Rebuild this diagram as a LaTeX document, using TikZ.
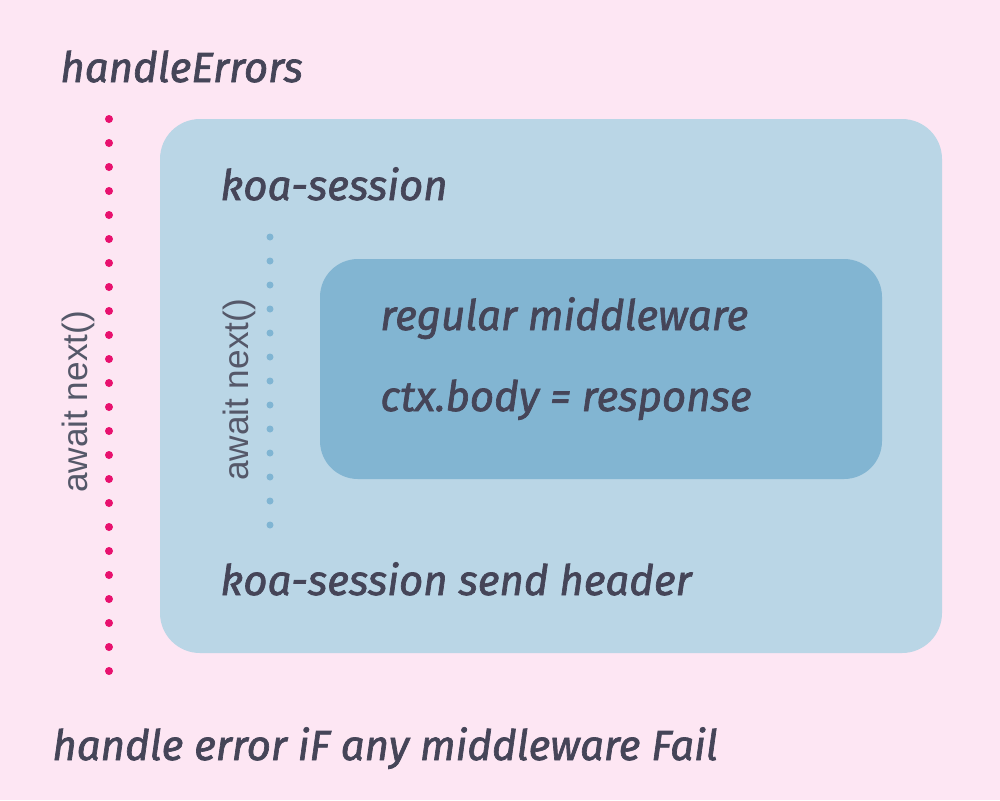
\documentclass[tikz,border=0pt]{standalone}
\usepackage{fontspec}
\setmainfont{Fira Sans}
\newfontfamily\handfont[ItalicFeatures={FakeBold=1.6}]{Fira Sans}
\newfontfamily\arialfont{Liberation Sans}
\usepackage{tikz}

\definecolor{bgpink}{HTML}{FDE6F3}
\definecolor{sessionblue}{HTML}{BAD6E6}
\definecolor{middleblue}{HTML}{82B5D2}
\definecolor{inkgray}{HTML}{454558}
\definecolor{errordots}{HTML}{E8116E}
\definecolor{nextdots}{HTML}{80B5D3}
\definecolor{nextgray}{HTML}{555869}

\tikzset{
  handtext/.style={anchor=base west,inner sep=0pt,text=inkgray,
    font=\handfont\itshape\fontsize{21}{25}\selectfont},
  nexttext/.style={rotate=90,inner sep=0pt,text=nextgray,
    font=\arialfont\fontsize{17.6}{20}\selectfont},
  dotline/.style={line cap=round,dash pattern=on 0pt off 12pt}
}

\begin{document}
\begin{tikzpicture}[x=0.5pt,y=-0.5pt]
  \fill[bgpink] (0,0) rectangle (1000,800);
  \useasboundingbox (0,0) rectangle (1000,800);

  \fill[sessionblue,rounded corners=20pt] (160,119) rectangle (942,653);
  \fill[middleblue,rounded corners=19pt]  (320,259) rectangle (882,479);

  \coordinate (errtop) at (109,119);
  \coordinate (errbot) at (109,671);
  \coordinate (nexttop) at (270,237);
  \coordinate (nextbot) at (270,525);
  \draw[dotline,errordots,line width=4pt] (errtop) -- (errbot);
  \draw[dotline,nextdots,line width=3.5pt] (nexttop) -- (nextbot);

  \node[handtext] (handle)  at (60,82)  {handleErrors};
  \node[handtext] (session) at (220,200) {koa-session};
  \node[handtext] (regular) at (380,330) {regular middleware};
  \node[handtext] (body)    at (380,411) {ctx.body = response};
  \node[handtext] (header)  at (220,595) {koa-session send header};
  \node[handtext] (fail)    at (52,760)  {handle error iF any middleware Fail};

  \node[nexttext] (outernext) at (78,402) {await next()};
  \node[nexttext] (innernext) at (239,390) {await next()};
\end{tikzpicture}
\end{document}
